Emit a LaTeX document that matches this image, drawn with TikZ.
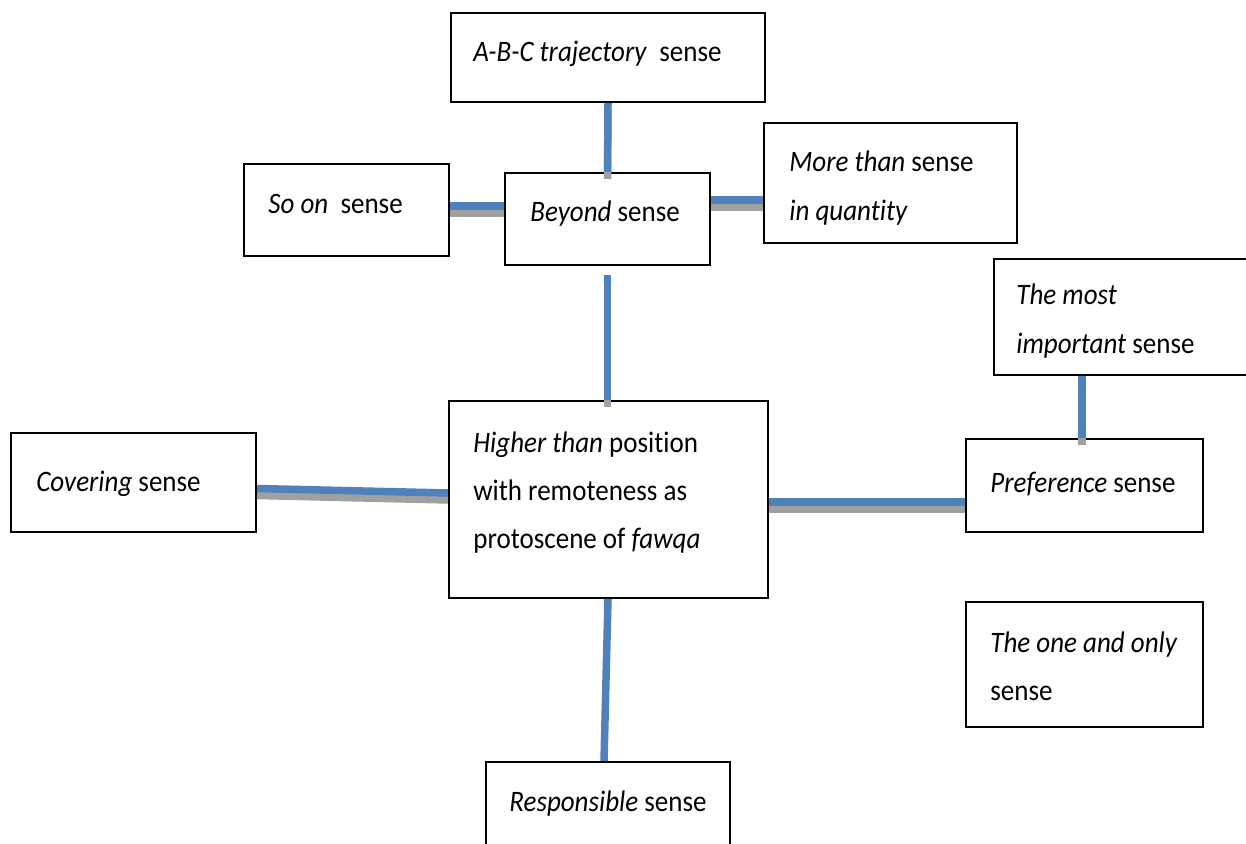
\documentclass[tikz,border=0pt]{standalone}
\usepackage{fontspec}
\setmainfont{Carlito}[Ligatures=NoCommon]
\definecolor{linkblue}{RGB}{79,129,189}
\definecolor{linkgrey}{RGB}{160,160,160}
% slightly tall lettering
\newcommand{\tallbox}[1]{\scalebox{1}[1.1]{#1}}
\newcommand{\stack}[1]{\tallbox{\begin{tabular}[t]{@{}l@{}}#1\end{tabular}}}
\begin{document}
\begin{tikzpicture}[x=0.5pt,y=-0.5pt,
  box/.style={draw, line width=1pt, inner sep=0pt, anchor=north west, fill=white},
  txt/.style={anchor=base west, inner sep=0pt, font=\fontsize{13.5}{22}\selectfont},
  link/.style={draw=linkblue, line width=3.75pt},
  shadowed/.style={preaction={draw=linkgrey, line width=3.75pt, transform canvas={yshift=-3.5pt}}}]
\useasboundingbox (0,0) rectangle (1246,844);

% sense boxes
\node[box, minimum width=157pt,   minimum height=44.5pt] (abc)   at (450,12)  {};
\node[box, minimum width=102.5pt, minimum height=46pt]   (soon)  at (243,163) {};
\node[box, minimum width=102.5pt, minimum height=46pt]   (beyond) at (504,172) {};
\node[box, minimum width=126.5pt, minimum height=60pt]   (more)  at (763,122) {};
\node[box, minimum width=150pt,   minimum height=58pt]   (most)  at (993,258) {};
\node[box, minimum width=122.5pt, minimum height=49.5pt] (cover) at (10,432)  {};
\node[box, minimum width=159.5pt, minimum height=98.5pt] (higher) at (448,400) {};
\node[box, minimum width=118.5pt, minimum height=46.5pt] (pref)  at (965,438) {};
\node[box, minimum width=118.5pt, minimum height=62.5pt] (only)  at (965,601) {};
\node[box, minimum width=122pt,   minimum height=50pt]   (resp)  at (485,761) {};

% texts
\node[txt] (abc-t)    at (473,62)  {\tallbox{\textit{A-B-C trajectory}\ \ sense}};
\node[txt] (soon-t)   at (268,214) {\tallbox{\textit{So on}\ \ sense}};
\node[txt] (beyond-t) at (530,222) {\tallbox{\textit{Beyond} sense}};
\node[txt] (more-t)   at (789,172) {\stack{\textit{More than} sense\\ \textit{in quantity}}};
\node[txt] (most-t)   at (1016,305) {\stack{\textit{The most}\\ \textit{important} sense}};
\node[txt] (cover-t)  at (36,491)  {\tallbox{\textit{Covering} sense}};
\node[txt] (higher-t) at (473,452) {\stack{\textit{Higher than} position\\ with remoteness as\\ protoscene of \textit{fawqa}}};
\node[txt] (pref-t)   at (990,492) {\tallbox{\textit{Preference} sense}};
\node[txt] (only-t)   at (990,652) {\stack{\textit{The one and only}\\ sense}};
\node[txt] (resp-t)   at (509,811) {\tallbox{\textit{Responsible} sense}};

% connectors
\coordinate (pn) at ([xshift=-1.25pt]pref.north);
\coordinate (bs) at ([yshift=-4.5pt]beyond.south);
\draw[link, shadowed] (abc.south) -- (beyond.north);
\draw[link, shadowed] ([yshift=2pt]soon.east) -- ([yshift=6.5pt]beyond.west);
\draw[link, shadowed] ([yshift=9.5pt]beyond.east) -- ([yshift=-8.5pt]more.west);
\draw[link, shadowed] (bs) -- (bs |- higher.north);
\draw[link, shadowed] ([yshift=-3pt]cover.east) -- ([yshift=3.25pt]higher.west);
\draw[link, shadowed] ([yshift=-1.25pt]higher.east) -- ([yshift=-1.25pt]higher.east -| pref.west);
\draw[link, shadowed] (most.south -| pn) -- (pn);
\draw[link] ([xshift=-0.25pt]higher.south) -- ([xshift=-2pt]resp.north);
\end{tikzpicture}
\end{document}
